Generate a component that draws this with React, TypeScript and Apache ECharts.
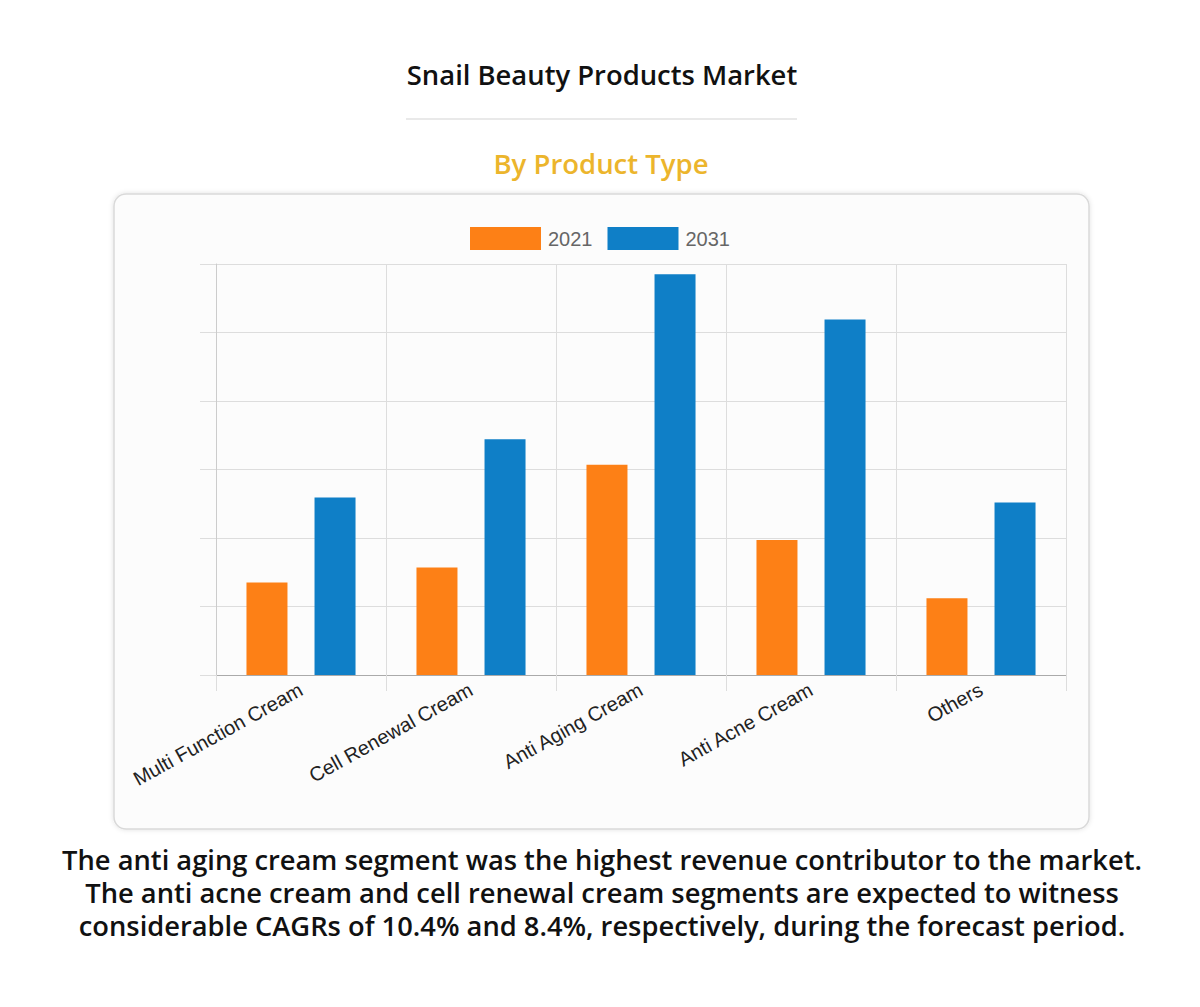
import React, { useEffect, useRef } from "react";
import * as echarts from "echarts";

const categories = [
  "Multi Function Cream",
  "Cell Renewal Cream",
  "Anti Aging Cream",
  "Anti Acne Cream",
  "Others",
];
const seriesNames = ["2021", "2031"];
const values2021 = [1.35, 1.57, 3.07, 1.97, 1.12];
const values2031 = [2.59, 3.44, 5.85, 5.19, 2.52];

const title = "Snail Beauty Products Market";
const subtitle = "By Product Type";
const footnote = [
  "The anti aging cream segment was the highest revenue contributor to the market.",
  "The anti acne cream and cell renewal cream segments are expected to witness",
  "considerable CAGRs of 10.4% and 8.4%, respectively, during the forecast period.",
];

const ORANGE = "#fd8016";
const BLUE = "#0f7fc7";

export default function App() {
  const ref = useRef<HTMLDivElement>(null);

  useEffect(() => {
    if (!ref.current) return;
    const chart = echarts.init(ref.current, null, { renderer: "svg" });
    const graphics: any[] = [
      {
        type: "rect",
        z: -10,
        silent: true,
        shape: { x: 114, y: 194, width: 975, height: 635, r: 12 },
        style: {
          fill: "#fcfcfc",
          stroke: "#d9d9d9",
          lineWidth: 1.5,
          shadowBlur: 5,
          shadowColor: "rgba(0,0,0,0.12)",
        },
      },
      {
        type: "text",
        x: 602,
        y: 74,
        style: {
          text: title,
          font: '600 27.4px "Open Sans"',
          fill: "#111111",
          align: "center",
          verticalAlign: "middle",
        },
      },
      {
        type: "line",
        shape: { x1: 406, y1: 119, x2: 797, y2: 119 },
        style: { stroke: "#e2e2e2", lineWidth: 1.5 },
      },
      {
        type: "text",
        x: 601,
        y: 163,
        style: {
          text: subtitle,
          font: '600 27.5px "Open Sans"',
          fill: "#ecb52c",
          align: "center",
          verticalAlign: "middle",
        },
      },
    ];
    footnote.forEach((line, i) => {
      graphics.push({
        type: "text",
        x: 602,
        y: 859.5 + i * 33,
        style: {
          text: line,
          font: '600 27.3px "Open Sans"',
          fill: "#111111",
          align: "center",
          verticalAlign: "middle",
        },
      });
    });

    chart.setOption({
      animation: false,
      backgroundColor: "#ffffff",
      graphic: graphics,
      legend: {
        data: seriesNames,
        left: 465,
        top: 222,
        itemWidth: 71,
        itemHeight: 23,
        itemGap: 15,
        icon: "rect",
        textStyle: {
          fontFamily: '"Liberation Sans", Arial, sans-serif',
          fontSize: 20,
          color: "#666666",
          padding: [0, 0, 0, 2],
        },
      },
      grid: {
        left: 216,
        right: 134,
        top: 264,
        bottom: 332,
        containLabel: false,
      },
      xAxis: {
        type: "category",
        data: categories,
        axisLine: { show: true, lineStyle: { color: "#aaaaaa", width: 1 } },
        axisTick: {
          show: true,
          length: 16,
          lineStyle: { color: "#dddddd" },
        },
        splitLine: { show: true, lineStyle: { color: "#dddddd" } },
        axisLabel: {
          rotate: 29,
          margin: 13,
          fontFamily: '"Liberation Sans", Arial, sans-serif',
          fontSize: 20,
          color: "#222222",
        },
      },
      yAxis: {
        type: "value",
        min: 0,
        max: 6,
        interval: 1,
        axisLine: { show: true, lineStyle: { color: "#cccccc" } },
        axisTick: { show: true, length: 16, lineStyle: { color: "#dddddd" } },
        axisLabel: { show: false },
        splitLine: { show: true, lineStyle: { color: "#dddddd" } },
      },
      series: [
        {
          name: seriesNames[0],
          type: "bar",
          data: values2021,
          barWidth: 41,
          barGap: "66%",
          itemStyle: { color: ORANGE },
        },
        {
          name: seriesNames[1],
          type: "bar",
          data: values2031,
          barWidth: 41,
          barGap: "66%",
          itemStyle: { color: BLUE },
        },
      ],
    });
    return () => chart.dispose();
  }, []);

  return (
    <div
      ref={ref}
      style={{
        position: "absolute",
        left: 0,
        top: 0,
        width: 1200,
        height: 1007,
        background: "#ffffff",
      }}
    />
  );
}
